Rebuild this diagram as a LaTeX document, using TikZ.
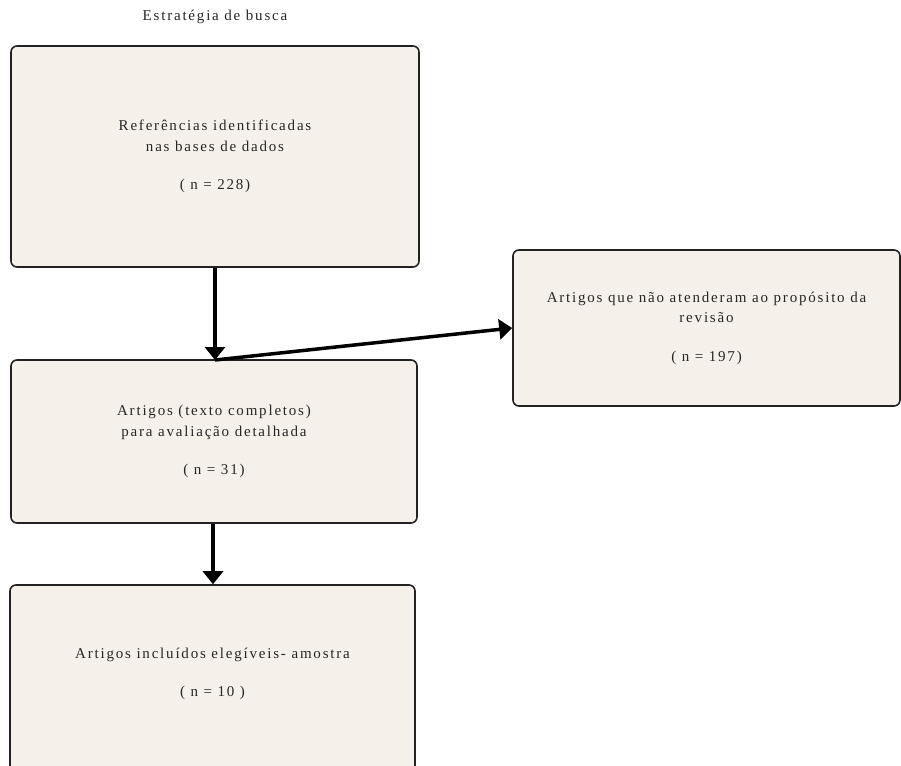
\documentclass[tikz,border=0pt]{standalone}
\usepackage{fontspec}
\setmainfont[LetterSpace=12]{Liberation Serif}
\usetikzlibrary{arrows.meta}
\definecolor{boxfill}{HTML}{F5F1EA}
\definecolor{boxline}{HTML}{222222}
\tikzset{
  flowbox/.style={draw=boxline, fill=boxfill, line width=1.6pt, rounded corners=6pt, inner sep=0pt},
  txt/.style={align=center, font=\fontsize{15}{20.5}\selectfont, text=black!85},
  conn/.style={line width=3.5pt, -{Triangle[width=20pt,length=13pt]}}
}
\begin{document}
\begin{tikzpicture}[x=1pt,y=-1pt]
\useasboundingbox (0,0) rectangle (901,765);
\node[txt] (title) at (215,17) {Estratégia de busca};
\node[flowbox, minimum width=408pt, minimum height=221pt] (b1) at (215,156.5) {};
\node[txt] (t1) at (b1.center) {Referências identificadas\\nas bases de dados\\[18pt]( n = 228)};
\node[flowbox, minimum width=406pt, minimum height=163pt] (b2) at (214,441.5) {};
\node[txt] (t2) at (b2.center) {Artigos (texto completos)\\para avaliação detalhada\\[18pt]( n = 31)};
\node[flowbox, minimum width=387pt, minimum height=156pt] (b4) at (706.5,328) {};
\node[txt] (t4) at (b4.center) {Artigos que não atenderam ao propósito da\\revisão\\[18pt]( n = 197)};
\node[flowbox, minimum width=405pt, minimum height=220pt] (b3) at (212.5,695) {};
\node[txt] (t3) at (212.5,674) {Artigos incluídos elegíveis- amostra\\[18pt]( n = 10 )};
\coordinate (j) at (215,360);
\draw[conn] (b1.south -| j) -- (j);
\draw[conn] (j) -- (b4.west);
\draw[conn] (b2.south -| 213,0) -- (b3.north -| 213,0);
\end{tikzpicture}
\end{document}
